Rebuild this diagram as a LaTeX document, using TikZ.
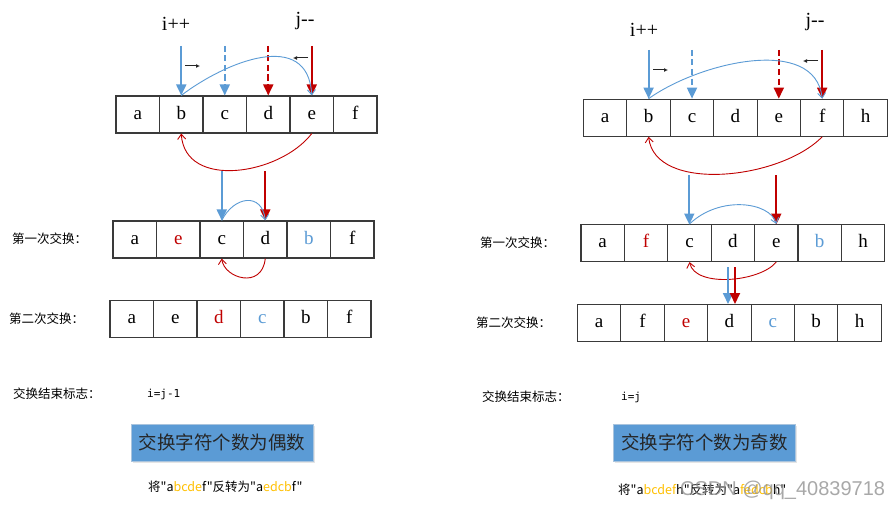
\documentclass[tikz,border=0pt]{standalone}
\usepackage{fontspec}
\setmainfont{Liberation Serif}
\newfontfamily\cjk{Noto Sans CJK SC}
\newfontfamily\monof{DejaVu Sans Mono}
\newfontfamily\sansf{Liberation Sans}
\usetikzlibrary{arrows.meta,shadows}
\definecolor{myblue}{HTML}{5B9BD5}
\definecolor{myred}{HTML}{C00000}
\definecolor{myorange}{HTML}{FFC000}
\definecolor{edgec}{HTML}{3A3A3A}
\definecolor{boxedge}{HTML}{A9C4DE}
\begin{document}
\begin{tikzpicture}[x=1pt,y=-1pt,
  cell/.style={draw=edgec,line width=1.1pt,fill=white,minimum width=43.5pt,minimum height=37pt,
    inner sep=0pt,text height=13pt,text depth=4pt,font=\fontsize{19}{19}\selectfont},
  rcell/.style={cell,minimum width=43.4pt},
  bigarrow/.style={line width=1.8pt,-{Triangle[width=10pt,length=11pt]}},
  dasharrow/.style={bigarrow,dash pattern=on 6pt off 3.5pt},
  thinarrow/.style={line width=0.9pt,-{Straight Barb[length=5pt,width=8pt]}},
  smallarrow/.style={line width=1pt,black!85,-{Latex[length=4pt,width=4pt]}},
  lbl/.style={font=\cjk\fontsize{12.5}{13}\selectfont,anchor=west,inner sep=0pt},
  ptr/.style={font=\fontsize{20}{20}\selectfont,inner sep=0pt},
  code/.style={font=\monof\fontsize{11}{11}\selectfont,anchor=west,inner sep=0pt},
  sumbox/.style={draw=boxedge,line width=1pt,fill=myblue,minimum width=182pt,minimum height=37pt,
    inner sep=0pt,font=\cjk\fontsize{18.5}{19}\selectfont,text=black!85,
    drop shadow={opacity=0.2,shadow xshift=1.5pt,shadow yshift=-1.5pt}},
  note/.style={font=\cjk\fontsize{12.5}{13}\selectfont,anchor=west,inner sep=0pt}
]
\useasboundingbox[fill=white] (0,0) rectangle (894,511);

% ---------------- LEFT ----------------
\foreach \t [count=\k] in {a,b,c,d,e,f}
  \node[cell] (LA\k) at ({116+43.5*(\k-0.5)},114.5) {\t};
\foreach \t [count=\k] in {a,{\color{myred}e},c,d,{\color{myblue}b},f}
  \node[cell] (LB\k) at ({113+43.5*(\k-0.5)},239.5) {\t};
\foreach \t [count=\k] in {a,e,{\color{myred}d},{\color{myblue}c},b,f}
  \node[cell] (LC\k) at ({110+43.5*(\k-0.5)},319) {\t};

\node[ptr] (li) at (176,24) {i++};
\node[ptr] (lj) at (305,21) {j-{}-};

\coordinate (lt1) at (LA2.north |- 0,46);
\coordinate (lt2) at (LA3.north |- 0,46);
\coordinate (lt3) at (LA4.north |- 0,46);
\coordinate (lt4) at (LA5.north |- 0,46);
\draw[bigarrow,myblue] (lt1) -- (LA2.north);
\draw[dasharrow,myblue] (lt2) -- (LA3.north);
\draw[dasharrow,myred] (lt3) -- (LA4.north);
\draw[bigarrow,myred] (lt4) -- (LA5.north);

\coordinate (lr1) at (185,66); \coordinate (lr2) at (200,66);
\draw[smallarrow] (lr1) -- (lr2);
\coordinate (ll1) at (308,58); \coordinate (ll2) at (293,58);
\draw[smallarrow] (ll1) -- (ll2);

\draw[thinarrow,myblue] (LA2.north) .. controls (225,62) and (308,28) .. (LA5.north);
\draw[thinarrow,myred] (LA5.south) .. controls (280,175) and (185,190) .. (LA2.south);

\coordinate (lm1) at (LB3.north |- 0,171);
\coordinate (lm2) at (LB4.north |- 0,171);
\draw[bigarrow,myblue] (lm1) -- (LB3.north);
\draw[bigarrow,myred] (lm2) -- (LB4.north);
\draw[thinarrow,myblue] (LB3.north) .. controls (234,196) and (262,192) .. (LB4.north);
\draw[thinarrow,myred] (LB4.south) .. controls (262,290) and (224,278) .. (LB3.south);

\node[lbl] (l1) at (12,239) {第一次交换：};
\node[lbl] (l2) at (9,319) {第二次交换：};
\node[lbl] (l3) at (13,394) {交换结束标志：};
\node[code] (l4) at (147,394) {i=j-1};

\node[sumbox] (lbox) at (222,442.5) {交换字符个数为偶数};
\node[note] (lnote) at (148,486.5) {将"a\textcolor{myorange}{bcde}f"反转为"a\textcolor{myorange}{edcb}f"};

% ---------------- RIGHT ----------------
\foreach \t [count=\k] in {a,b,c,d,e,f,h}
  \node[rcell] (RA\k) at ({583.5+43.4*(\k-0.5)},117.7) {\t};
\foreach \t [count=\k] in {a,{\color{myred}f},c,d,e,{\color{myblue}b},h}
  \node[rcell] (RB\k) at ({581+43.4*(\k-0.5)},243) {\t};
\foreach \t [count=\k] in {a,f,{\color{myred}e},d,{\color{myblue}c},b,h}
  \node[rcell] (RC\k) at ({577.5+43.4*(\k-0.5)},323) {\t};

\node[ptr] (ri) at (644,30) {i++};
\node[ptr] (rj) at (815,22) {j-{}-};

\coordinate (rt1) at (RA2.north |- 0,50);
\coordinate (rt2) at (RA3.north |- 0,50);
\coordinate (rt3) at (RA5.north |- 0,50);
\coordinate (rt4) at (RA6.north |- 0,50);
\draw[bigarrow,myblue] (rt1) -- (RA2.north);
\draw[dasharrow,myblue] (rt2) -- (RA3.north);
\draw[dasharrow,myred] (rt3) -- (RA5.north);
\draw[bigarrow,myred] (rt4) -- (RA6.north);

\coordinate (rr1) at (653,70); \coordinate (rr2) at (668,70);
\draw[smallarrow] (rr1) -- (rr2);
\coordinate (rl1) at (818,61); \coordinate (rl2) at (803,61);
\draw[smallarrow] (rl1) -- (rl2);

\draw[thinarrow,myblue] (RA2.north) .. controls (700,62) and (815,35) .. (RA6.north);
\draw[thinarrow,myred] (RA6.south) .. controls (780,180) and (655,193) .. (RA2.south);

\coordinate (rm1) at (689.3,175);
\coordinate (rm2) at (776.3,175);
\coordinate (rm1e) at (689.3,224.5);
\coordinate (rm2e) at (776.3,224.5);
\draw[bigarrow,myblue] (rm1) -- (rm1e);
\draw[bigarrow,myred] (rm2) -- (rm2e);
\draw[thinarrow,myblue] (RB3.north) .. controls (720,195) and (770,202) .. (RB5.north);
\draw[thinarrow,myred] (RB5.south) .. controls (760,282) and (695,288) .. (RB3.south);

\coordinate (rb1) at (728,267); \coordinate (rb1e) at (728,304);
\coordinate (rb2) at (735,267); \coordinate (rb2e) at (735,304);
\draw[bigarrow,myblue] (rb1) -- (rb1e);
\draw[bigarrow,myred] (rb2) -- (rb2e);

\node[lbl] (r1) at (480,243) {第一次交换：};
\node[lbl] (r2) at (476,323) {第二次交换：};
\node[lbl] (r3) at (482,397) {交换结束标志：};
\node[code] (r4) at (621,397) {i=j};

\node[sumbox] (rbox) at (704.5,442.5) {交换字符个数为奇数};
\node[note] (rnote) at (618,490) {将"a\textcolor{myorange}{bcdef}h"反转为"a\textcolor{myorange}{fedcb}h"};

\node[font=\sansf\fontsize{20}{20}\selectfont,text=black!45,opacity=0.75,anchor=west,inner sep=0pt] (wm) at (680,490) {CSDN @qq\_40839718};
\end{tikzpicture}
\end{document}
